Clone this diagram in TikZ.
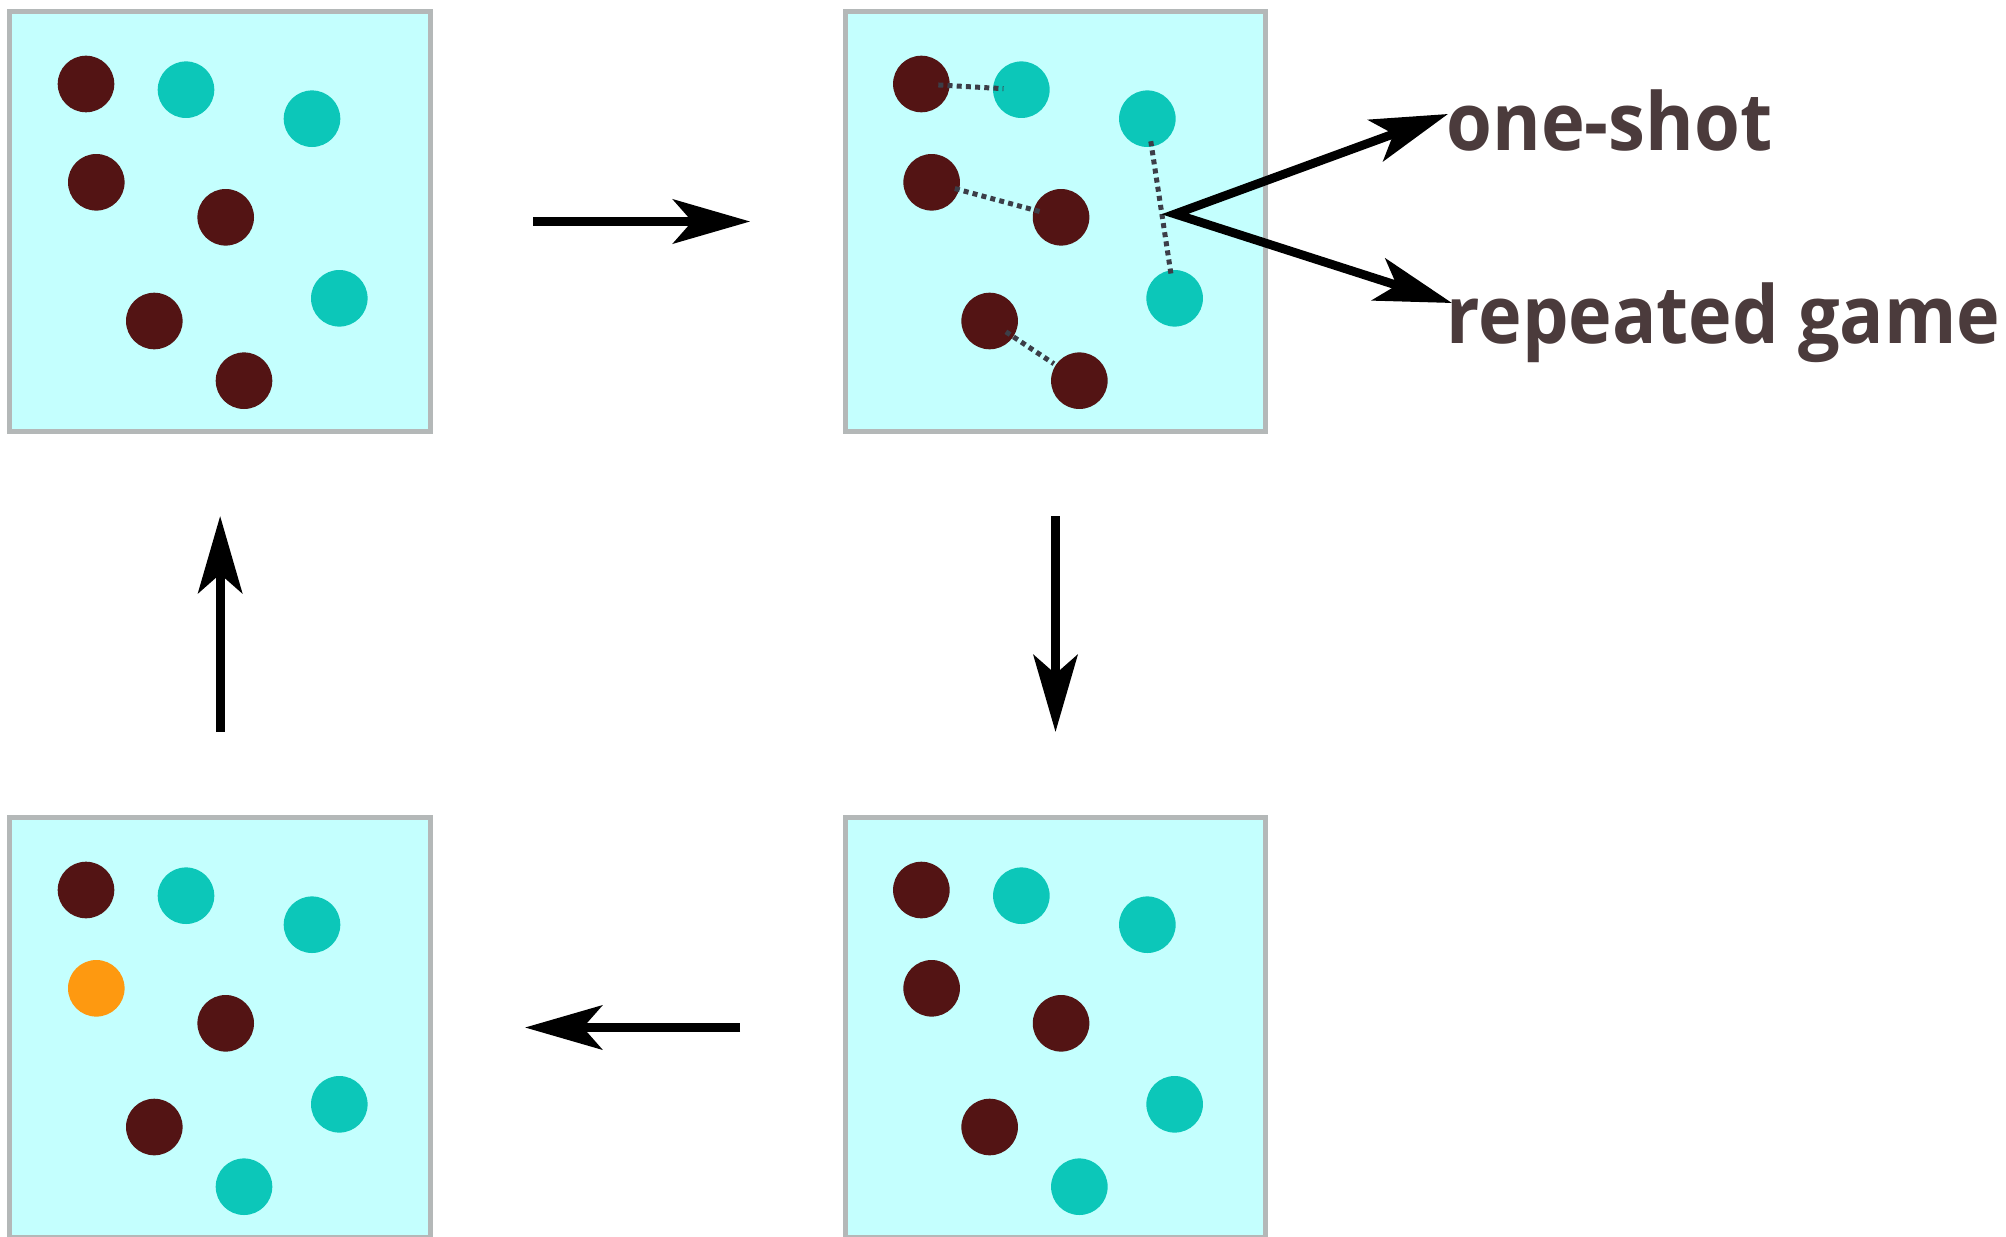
\documentclass[tikz,border=0pt]{standalone}
\usepackage{graphicx}
\usepackage{fontspec}
\newfontfamily\tagfont{Open Sans}
\usetikzlibrary{arrows.meta,calc}

\definecolor{panelfill}{HTML}{C4FFFE}
\definecolor{panelline}{HTML}{B4B8B8}
\definecolor{darkagent}{HTML}{531414}
\definecolor{tealagent}{HTML}{0CC7B9}
\definecolor{orangeagent}{HTML}{FE9910}
\definecolor{linkgray}{HTML}{3C3E48}
\definecolor{labeltext}{HTML}{4B3B3C}

% eight agents at fixed offsets from the centre of a panel
\newcommand\agentset[9]{%
  \node[agent=#2] (#1a) at ($(#1)+(-134.15,-137.5)$) {};
  \node[agent=#3] (#1b) at ($(#1)+(-34.15,-131.8)$) {};
  \node[agent=#4] (#1c) at ($(#1)+(91.85,-102.8)$) {};
  \node[agent=#5] (#1d) at ($(#1)+(-123.85,-39.2)$) {};
  \node[agent=#6] (#1e) at ($(#1)+(5.55,-4.2)$) {};
  \node[agent=#7] (#1f) at ($(#1)+(119.15,76.8)$) {};
  \node[agent=#8] (#1g) at ($(#1)+(-65.85,99.5)$) {};
  \node[agent=#9] (#1h) at ($(#1)+(23.85,159.2)$) {};
}

\begin{document}
\begin{tikzpicture}[x=0.5pt,y=-0.5pt,
  panel/.style={draw=panelline, fill=panelfill, line width=2.5pt,
    minimum width=210.35pt, minimum height=210pt, inner sep=0pt, outer sep=0pt},
  agent/.style={circle, fill=#1, minimum size=28.3pt, inner sep=0pt, outer sep=0pt},
  link/.style={draw=linkgray, line width=2.5pt, dash pattern=on 2.5pt off 2.1pt},
  tip/.tip={Stealth[length=38.5pt,width=22pt,inset=9.5pt]},
  flow/.style={line width=4.6pt, -tip},
  forkline/.style={line width=4.4pt, line join=miter, tip-tip},
  tag/.style={font=\tagfont\fontsize{40pt}{48pt}\selectfont\bfseries, text=labeltext,
    anchor=base west, inner sep=0pt}
]
\useasboundingbox (0,0) rectangle (2006,1236);

% panels
\node[panel] (B1) at (220.15,221.5) {};
\node[panel] (B2) at (1055.5,221.5) {};
\node[panel] (B3) at (220.15,1027.5) {};
\node[panel] (B4) at (1055.5,1027.5) {};

% agents
\agentset{B1}{darkagent}{tealagent}{tealagent}{darkagent}{darkagent}{tealagent}{darkagent}{darkagent}
\agentset{B2}{darkagent}{tealagent}{tealagent}{darkagent}{darkagent}{tealagent}{darkagent}{darkagent}
\agentset{B3}{darkagent}{tealagent}{tealagent}{orangeagent}{darkagent}{tealagent}{darkagent}{tealagent}
\agentset{B4}{darkagent}{tealagent}{tealagent}{darkagent}{darkagent}{tealagent}{darkagent}{tealagent}

% pairings
\draw[link, shorten <=8.5pt, shorten >=9pt] (B2a.center) -- (B2b.center);
\draw[link, shorten <=12pt, shorten >=11pt] (B2d.center) -- (B2e.center);
\draw[link, shorten <=11.4pt, shorten >=12.2pt] (B2c.center) -- (B2f.center);
\draw[link, shorten <=9.75pt, shorten >=15.3pt] (B2g.center) -- (B2h.center);

% cycle arrows
\draw[flow, shorten <=51.25pt, shorten >=47.5pt] (B1.east) -- (B2.west);
\draw[flow, shorten <=42.25pt, shorten >=42.75pt] (B2.south) -- (B4.north);
\draw[flow, shorten <=52.5pt, shorten >=47.25pt] (B4.west) -- (B3.east);
\draw[flow, shorten <=42.75pt, shorten >=42.25pt] (B3.north) -- (B1.south);

% outcomes
\node[tag] (one) at (1446,150) {\resizebox{163pt}{\height}{one-shot}};
\node[tag] (rep) at (1446,343) {\resizebox{277pt}{\height}{repeated game}};
\coordinate (fork) at (1175,214);
\draw[forkline] ($(one.base west)+(2,-36)$) -- (fork) -- ($(rep.base west)+(6,-40)$);
\end{tikzpicture}
\end{document}
